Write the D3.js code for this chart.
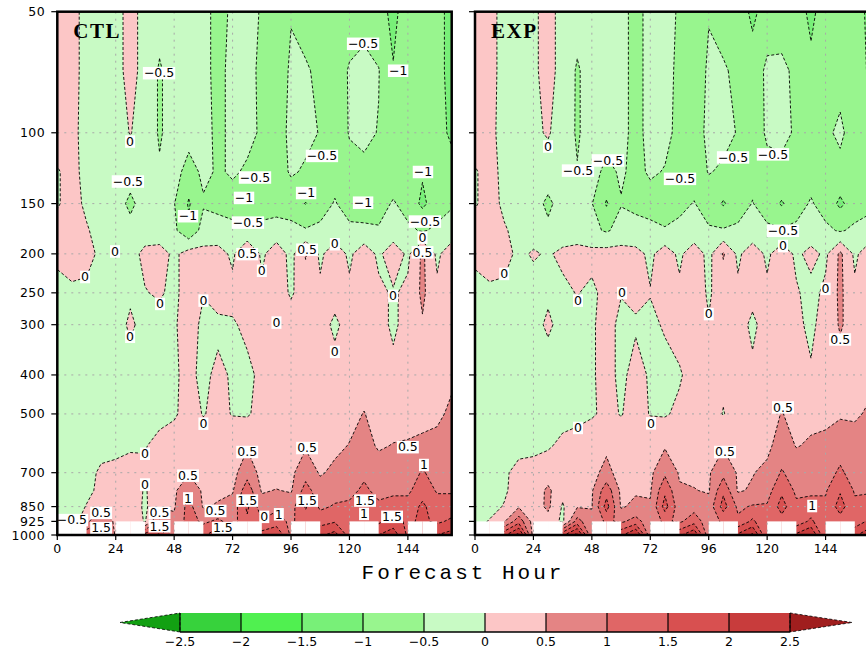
<!DOCTYPE html>
<html>
<head>
<meta charset="utf-8">
<title>CTL / EXP bias cross sections</title>
<script src="https://cdn.jsdelivr.net/npm/d3@7"></script>
<style>
  body { margin: 0; background: #fff; }
  svg { display: block; }
  text { font-family: "DejaVu Sans", sans-serif; fill: #000; }
</style>
</head>
<body>
<svg id="chart" width="866" height="649"></svg>
<script>
// pressure levels (rows, bottom to top) and forecast hours (columns)
const N = NaN; // missing (below ground)
const levels = [1000, 925, 850, 775, 700, 600, 500, 400, 300, 250, 200, 175, 150, 125, 100, 70, 50];
const hours = d3.range(0, 163, 6);
const pTicks = [1000, 925, 850, 700, 500, 400, 300, 250, 200, 150, 100, 50];
const pGrid = [850, 700, 500, 400, 300, 250, 200, 150, 100];
const hourTicks = [0, 24, 48, 72, 96, 120, 144];
const thresholds = [-2.5, -2, -1.5, -1, -0.5, 0, 0.5, 1, 1.5, 2, 2.5];
const bandColors = ["#12a012", "#37d23c", "#50f050", "#78f078", "#98f58e", "#c8fac4",
                    "#fcc6c6", "#e48484", "#e06666", "#d85050", "#c83c3c", "#a01e1e"];

// CTL bias, one row per level (1000 -> 50 hPa), hours 0..162
const ctlBias = [
  [N, N, 1.4, 1.9, N, N, 1.7,   2.1, N, N, 1.4, 1.9, N, N,   1.7, 2.0, N, N, 1.9, 2.2, N,   N, 2.0, 2.3, N, N, 2.0, 2.2],
  [-0.6, -0.3, 0.4, 0.9, 0.4, 0.4, -0.05,   1.05, 0.6, 1.2, 0.9, 1.1, 0.8, 1.4,   1.05, 1.2, 0.9, 1.3, 1.3, 1.45, 1.3,   1.45, 1.4, 1.7, 1.4, 1.6, 1.4, 1.6],
  [-0.4, -0.2, 0.02, 0.45, 0.3, 0.35, -0.1,   0.45, 0.45, 1.2, 0.45, 0.55, 0.7, 1.6,   0.7, 0.9, 0.8, 1.55, 0.9, 1.05, 1.1,   1.4, 1.1, 1.3, 1.2, 1.6, 1.2, 1.2],
  [-0.3, -0.2, -0.1, 0.1, 0.2, 0.3, -0.05,   0.3, 0.4, 0.95, 0.4, 0.4, 0.45, 1.3,   0.45, 0.52, 0.45, 1.2, 0.7, 0.8, 0.85,   1.1, 0.85, 0.85, 0.9, 1.3, 0.95, 0.95],
  [-0.2, -0.15, -0.1, 0.05, 0.1, 0.15, 0.05,   0.3, 0.3, 0.45, 0.3, 0.3, 0.35, 0.8,   0.35, 0.3, 0.4, 0.8, 0.45, 0.6, 0.65,   0.9, 0.7, 0.7, 0.75, 1.05, 0.8, 0.85],
  [-0.2, -0.2, -0.15, -0.1, -0.1, -0.05, -0.02,   0.1, 0.2, 0.25, 0.2, 0.2, 0.3, 0.45,   0.3, 0.25, 0.35, 0.45, 0.3, 0.4, 0.52,   0.65, 0.45, 0.52, 0.55, 0.6, 0.65, 0.75],
  [-0.2, -0.25, -0.25, -0.25, -0.2, -0.2, -0.15,   -0.1, -0.05, 0.15, -0.02, 0.1, -0.02, -0.05,   0.15, 0.2, 0.2, 0.2, 0.2, 0.25, 0.35,   0.52, 0.3, 0.3, 0.3, 0.35, 0.4, 0.6],
  [-0.2, -0.3, -0.3, -0.3, -0.3, -0.25, -0.2,   -0.15, -0.05, 0.1, -0.1, 0.1, -0.05, -0.1,   0.1, 0.2, 0.2, 0.2, 0.2, 0.2, 0.2,   0.25, 0.2, 0.15, 0.2, 0.25, 0.3, 0.4],
  [-0.2, -0.25, -0.3, -0.3, -0.25, 0.1, -0.2,   -0.15, -0.05, 0.2, -0.1, -0.1, -0.05, 0.1,   0.2, 0.05, 0.2, 0.2, 0.2, -0.1, 0.2,   0.2, 0.2, -0.1, 0.2, 0.45, 0.2, 0.25],
  [-0.15, -0.1, -0.1, -0.15, -0.2, -0.1, -0.02,   0.05, -0.1, 0.2, 0.02, 0.2, 0.15, 0.2,   0.1, 0.2, -0.05, 0.2, 0.1, 0.2, 0.1,   0.2, 0.1, -0.05, 0.1, 0.6, 0.1, 0.2],
  [0.1, 0.25, 0.15, -0.1, -0.05, -0.15, 0.1,   0.2, -0.1, 0.2, 0.15, 0.2, -0.1, 0.55,   -0.1, 0.3, -0.15, 0.55, -0.1, 0.3, -0.1,   0.3, -0.1, 0.3, -0.1, 0.6, -0.1, 0.3],
  [0.2, 0.3, 0.05, -0.2, -0.2, -0.35, -0.2,   -0.3, -0.4, -0.9, -0.3, -0.35, -0.4, -0.45,   -0.35, -0.3, -0.35, -0.45, -0.35, -0.3, -0.35,   -0.4, -0.45, -0.3, -0.4, -0.55, -0.4, -0.3],
  [-0.05, 0.2, -0.1, -0.25, -0.3, -0.6, -0.3,   -0.35, -0.48, -1.05, -0.55, -0.6, -0.65, -0.95,   -0.75, -0.7, -0.75, -1.02, -0.8, -0.45, -0.8,   -0.75, -0.7, -0.45, -0.7, -1.1, -0.75, -0.55],
  [-0.05, 0.2, -0.2, -0.2, -0.2, -0.3, -0.2,   -0.45, -0.3, -0.7, -0.4, -0.55, -0.45, -0.55,   -0.6, -0.7, -0.45, -0.55, -0.65, -0.75, -0.6,   -0.6, -0.65, -0.8, -0.8, -0.95, -0.85, -0.9],
  [0.3, 0.15, -0.2, -0.2, -0.2, 0.02, -0.2,   -0.55, -0.3, -0.3, -0.35, -0.6, -0.4, -0.4,   -0.55, -0.7, -0.4, -0.4, -0.52, -0.7, -0.48,   -0.4, -0.52, -0.8, -0.75, -0.8, -0.9, -1.05],
  [0.3, 0.2, -0.2, -0.3, -0.2, 0.2, -0.2,   -0.55, -0.3, -0.35, -0.4, -0.6, -0.4, -0.35,   -0.6, -0.7, -0.45, -0.45, -0.6, -0.8, -0.45,   -0.35, -0.48, -0.98, -0.8, -0.8, -0.9, -1.1],
  [0.3, 0.2, -0.2, -0.3, -0.2, 0.2, -0.2,   -0.3, -0.35, -0.4, -0.4, -0.6, -0.45, -0.3,   -0.55, -0.7, -0.52, -0.7, -0.8, -0.8, -0.8,   -0.7, -0.85, -1.1, -0.8, -0.8, -0.9, -1.1]
];

// EXP bias, same layout
const expBias = [
  [N, N, 1.9, 2.7, N, N, 1.9,   2.7, N, N, 1.9, 2.6, N, N,   1.9, 2.45, N, N, 2.1, 2.6, N,   N, 2.1, 2.55, N, N, 1.9, 2.4],
  [-0.1, 0.02, 0.45, 1.3, 0.3, 0.3, -0.1,   1.2, 0.6, 1.1, 0.9, 1.2, 0.7, 1.1,   0.9, 1.3, 0.7, 1.1, 1.1, 1.6, 1.05,   1.3, 1.2, 1.6, 1.05, 1.3, 1.2, 1.6],
  [-0.15, -0.1, 0.02, 0.45, 0.25, 0.6, -0.05,   0.45, 0.48, 1.7, 0.45, 0.6, 0.55, 1.7,   0.7, 0.8, 0.7, 1.7, 0.9, 1.05, 1.05,   1.7, 1.1, 1.2, 1.1, 1.7, 1.1, 1.2],
  [-0.2, -0.1, -0.05, 0.15, 0.2, 0.6, 0.15,   0.35, 0.45, 1.3, 0.4, 0.45, 0.45, 1.4,   0.55, 0.52, 0.45, 1.4, 0.45, 0.55, 0.8,   1.4, 0.9, 0.9, 0.95, 1.45, 0.95, 0.95],
  [-0.2, -0.15, -0.05, 0.1, 0.15, 0.25, 0.2,   0.3, 0.35, 0.65, 0.3, 0.35, 0.4, 0.9,   0.45, 0.4, 0.45, 0.85, 0.45, 0.48, 0.6,   1.05, 0.75, 0.7, 0.75, 1.1, 0.75, 0.8],
  [-0.2, -0.2, -0.15, -0.1, -0.1, -0.05, 0.1,   0.15, 0.3, 0.4, 0.2, 0.25, 0.3, 0.45,   0.3, 0.25, 0.3, 0.45, 0.35, 0.35, 0.4,   0.7, 0.48, 0.55, 0.6, 0.75, 0.65, 0.75],
  [-0.2, -0.25, -0.25, -0.25, -0.2, -0.2, -0.15,   -0.1, -0.05, 0.1, -0.02, 0.15, -0.02, -0.05,   0.1, 0.2, 0.2, -0.02, 0.2, 0.25, 0.3,   0.52, 0.35, 0.4, 0.4, 0.45, 0.45, 0.55],
  [-0.2, -0.3, -0.3, -0.3, -0.3, -0.3, -0.25,   -0.2, -0.05, 0.15, -0.1, 0.15, -0.05, -0.15,   -0.05, 0.2, 0.2, 0.1, 0.2, 0.1, 0.2,   0.25, 0.1, 0.05, 0.2, 0.3, 0.3, 0.4],
  [-0.2, -0.25, -0.3, -0.3, -0.2, 0.1, -0.2,   -0.1, -0.05, 0.15, -0.1, -0.05, -0.1, 0.05,   0.2, 0.2, 0.02, 0.2, 0.2, -0.1, 0.2,   0.2, 0.1, -0.1, 0.2, 0.55, 0.3, 0.3],
  [-0.15, -0.1, -0.1, -0.15, -0.2, -0.1, -0.1,   0.02, -0.1, 0.15, 0.02, 0.1, 0.02, 0.15,   0.1, 0.2, -0.05, 0.2, 0.1, 0.15, 0.1,   0.2, 0.05, -0.15, 0.1, 0.6, 0.1, 0.25],
  [0.1, 0.25, 0.15, -0.1, 0.05, -0.05, 0.1,   0.2, 0.15, 0.2, 0.2, 0.15, -0.1, 0.25,   -0.1, 0.3, -0.15, 0.55, -0.1, 0.3, -0.1,   0.3, -0.1, 0.15, -0.1, 0.6, -0.1, 0.3],
  [0.2, 0.3, 0.05, -0.15, -0.2, -0.4, -0.25,   -0.3, -0.4, -0.55, -0.35, -0.35, -0.4, -0.45,   -0.4, -0.35, -0.45, -0.45, -0.4, -0.35, -0.4,   -0.45, -0.4, -0.3, -0.4, -0.55, -0.4, -0.35],
  [-0.05, 0.2, -0.1, -0.2, -0.3, -0.6, -0.3,   -0.35, -0.48, -1.05, -0.52, -0.6, -0.65, -0.8,   -0.6, -0.48, -0.7, -1.05, -0.75, -0.48, -0.75,   -1.05, -0.7, -0.45, -0.7, -1.1, -0.75, -0.6],
  [-0.05, 0.2, -0.15, -0.2, -0.15, -0.25, -0.3,   -0.48, -0.35, -0.6, -0.45, -0.6, -0.45, -0.52,   -0.65, -0.7, -0.48, -0.55, -0.6, -0.65, -0.6,   -0.6, -0.65, -0.7, -0.7, -0.65, -0.7, -0.8],
  [0.3, 0.15, -0.2, -0.25, -0.1, 0.05, -0.25,   -0.55, -0.3, -0.35, -0.4, -0.6, -0.4, -0.4,   -0.6, -0.7, -0.4, -0.4, -0.52, -0.7, -0.45,   -0.4, -0.55, -0.75, -0.6, -0.4, -0.75, -1.05],
  [0.3, 0.2, -0.2, -0.25, -0.1, 0.2, -0.2,   -0.55, -0.3, -0.35, -0.4, -0.6, -0.4, -0.35,   -0.6, -0.7, -0.45, -0.45, -0.6, -0.8, -0.4,   -0.4, -0.6, -0.9, -0.75, -0.7, -0.8, -1.05],
  [0.3, 0.2, -0.2, -0.25, -0.1, 0.2, -0.2,   -0.3, -0.35, -0.35, -0.4, -0.6, -0.4, -0.35,   -0.55, -0.7, -0.52, -0.7, -0.75, -1.1, -0.8,   -0.75, -0.8, -1.1, -0.8, -0.75, -0.8, -1.1]
];

// contour labels: [hour, pressure, text]
const ctlLabels = [
  [41.8, 71, "−0.5"], [29.9, 105, "0"], [29, 132, "−0.5"], [53.7, 161, "−1"], [81.2, 129, "−0.5"],
  [76.7, 145, "−1"], [78.3, 167, "−0.5"], [108.7, 114, "−0.5"], [102.2, 141, "−1"], [125.6, 149, "−1"],
  [125.6, 60, "−0.5"], [140, 70, "−1"], [150.2, 125, "−1"], [151, 166, "−0.5"], [11.4, 228, "0"],
  [23.7, 197, "0"], [78, 200, "0.5"], [84, 220, "0"], [102.6, 195, "0.5"], [114, 189, "0"],
  [150, 182, "0"], [150, 198, "0.5"], [42.2, 266, "0"], [60, 261, "0"], [29.9, 321, "0"],
  [90, 296, "0"], [114, 350, "0"], [137.9, 254, "0"], [60, 528, "0"], [36, 627, "0"],
  [36, 748, "0"], [53.7, 711, "0.5"], [78, 621, "0.5"], [102.6, 607, "0.5"], [144, 604, "0.5"],
  [53.7, 810, "1"], [150.6, 669, "1"], [78, 820, "1.5"], [102.6, 820, "1.5"], [126.4, 820, "1.5"],
  [126, 885, "1"], [137.5, 900, "1.5"], [6, 917, "−0.5"], [18, 880, "0.5"], [18, 960, "1.5"],
  [42, 880, "0.5"], [42, 950, "1.5"], [65, 870, "0.5"], [68, 960, "1.5"], [91, 887, "1"], [85, 900, "0"]
];
const expLabels = [
  [30, 108, "0"], [42.3, 124, "−0.5"], [54.6, 117, "−0.5"], [84.2, 130, "−0.5"], [106, 115, "−0.5"],
  [122.4, 113, "−0.5"], [126.5, 175, "−0.5"], [126.5, 191, "0"], [12, 224, "0"], [42.3, 261, "0"],
  [60.4, 250, "0"], [42.3, 541, "0"], [72.3, 527, "0"], [96, 282, "0"], [144, 244, "0"],
  [150, 326, "0.5"], [126.5, 481, "0.5"], [102.7, 621, "0.5"], [138.5, 846, "1"]
];

const svg = d3.select("#chart");
const plotTop = 11.7, plotBottom = 535, panelW = 394.4;
const y = d3.scaleLog().domain([1000, 50]).range([plotBottom, plotTop]);
const nx = hours.length, ny = levels.length;
const contours = d3.contours().size([nx, ny]);

function drawPanel(name, rows, labels, left) {
  const x = d3.scaleLinear().domain([0, 162]).range([left, left + panelW]);

  // missing cells take the value of the level above for contouring; they are blanked afterwards
  const missing = [];
  const filled = rows.map((row, j) => row.map((v, i) => {
    if (isNaN(v)) { missing.push([i, j]); return rows[j + 1][i]; }
    return v;
  }));
  const values = filled.flat();

  // contour grid coords -> pixels (cell centres sit at i + 0.5)
  function toPx(c) {
    const ix = Math.max(0, Math.min(nx - 1, c[0] - 0.5));
    const iy = Math.max(0, Math.min(ny - 1, c[1] - 0.5));
    const i = Math.min(nx - 2, Math.floor(ix)), fi = ix - i;
    const j = Math.min(ny - 2, Math.floor(iy)), fj = iy - j;
    const h = hours[i] + fi * (hours[i + 1] - hours[i]);
    const lp = Math.log(levels[j]) * (1 - fj) + Math.log(levels[j + 1]) * fj;
    return [x(h).toFixed(2), y(Math.exp(lp)).toFixed(2)];
  }
  const onEdge = c => c[0] <= 1e-9 || c[0] >= nx - 1e-9 || c[1] <= 1e-9 || c[1] >= ny - 1e-9;
  const missRect = ([i, j]) => ({
    x: x(hours[i]), w: x(Math.min(162, hours[i] + 6)) - x(hours[i]),
    y: y(levels[j + 1]), h: y(levels[j]) - y(levels[j + 1])
  });

  const clipId = "clip-" + name, maskId = "mask-" + name;
  svg.append("clipPath").attr("id", clipId).append("rect")
    .attr("x", left).attr("y", plotTop).attr("width", panelW).attr("height", plotBottom - plotTop);
  const mask = svg.append("mask").attr("id", maskId).attr("maskUnits", "userSpaceOnUse")
    .attr("x", 0).attr("y", 0).attr("width", 1000).attr("height", 700);
  mask.append("rect").attr("x", 0).attr("y", 0).attr("width", 1000).attr("height", 700).attr("fill", "#fff");
  missing.map(missRect).forEach(r => mask.append("rect")
    .attr("x", r.x).attr("y", r.y).attr("width", r.w).attr("height", r.h + 2).attr("fill", "#000"));

  const g = svg.append("g").attr("clip-path", `url(#${clipId})`);

  // filled bands
  [-1e9].concat(thresholds).forEach((t, k) => {
    const mp = contours.contour(values, t);
    const d = mp.coordinates.map(poly => poly.map(ring => "M" + ring.map(toPx).join("L") + "Z").join("")).join("");
    g.append("path").attr("d", d).attr("fill", bandColors[k]).attr("fill-rule", "evenodd");
  });
  // blank missing cells
  missing.map(missRect).forEach(r => g.append("rect")
    .attr("x", r.x).attr("y", r.y).attr("width", r.w).attr("height", r.h + 2).attr("fill", "#fff"));

  // dotted grid
  g.selectAll(".vgrid").data(hourTicks.slice(1)).enter().append("line")
    .attr("x1", d => x(d)).attr("x2", d => x(d)).attr("y1", plotTop).attr("y2", plotBottom)
    .attr("stroke", "#a8a8a8").attr("stroke-width", 1).attr("stroke-dasharray", "2,5");
  g.selectAll(".hgrid").data(pGrid).enter().append("line")
    .attr("x1", left).attr("x2", left + panelW).attr("y1", d => y(d)).attr("y2", d => y(d))
    .attr("stroke", "#a8a8a8").attr("stroke-width", 1).attr("stroke-dasharray", "2,5");

  // dashed contour lines
  const lines = g.append("g").attr("mask", `url(#${maskId})`);
  thresholds.forEach(t => {
    const mp = contours.contour(values, t);
    let d = "";
    mp.coordinates.forEach(poly => poly.forEach(ring => {
      let pen = false;
      for (let k = 1; k < ring.length; k++) {
        const a = ring[k - 1], b = ring[k];
        if (onEdge(a) && onEdge(b)) { pen = false; continue; }
        if (!pen) { d += "M" + toPx(a); pen = true; }
        d += "L" + toPx(b);
      }
    }));
    if (d) lines.append("path").attr("d", d).attr("fill", "none")
      .attr("stroke", "#000").attr("stroke-width", 0.9).attr("stroke-dasharray", "3,2");
  });

  // contour labels with white boxes
  labels.forEach(([h, p, s]) => {
    const lg = g.append("g");
    const t = lg.append("text").attr("x", x(h)).attr("y", y(p)).attr("dy", "0.36em")
      .attr("text-anchor", "middle").attr("font-size", 12.5).text(s);
    const bb = t.node().getBBox();
    lg.insert("rect", "text").attr("x", bb.x - 1).attr("y", bb.y + 1.5)
      .attr("width", bb.width + 2).attr("height", bb.height - 2.5).attr("fill", "#fff");
  });

  // frame
  svg.append("rect").attr("x", left).attr("y", plotTop).attr("width", panelW)
    .attr("height", plotBottom - plotTop).attr("fill", "none").attr("stroke", "#000").attr("stroke-width", 2.5);

  // x ticks and labels
  svg.selectAll(".xt-" + name).data(hourTicks).enter().append("line")
    .attr("x1", d => x(d)).attr("x2", d => x(d)).attr("y1", plotBottom).attr("y2", plotBottom + 5)
    .attr("stroke", "#000").attr("stroke-width", 1.2);
  svg.selectAll(".xl-" + name).data(hourTicks).enter().append("text")
    .attr("x", d => x(d)).attr("y", plotBottom + 18).attr("text-anchor", "middle")
    .attr("font-size", 12.5).text(d => d);

  // left ticks
  svg.selectAll(".yt-" + name).data(pTicks).enter().append("line")
    .attr("x1", left - 6).attr("x2", left).attr("y1", d => y(d)).attr("y2", d => y(d))
    .attr("stroke", "#000").attr("stroke-width", 1.2);

  svg.append("text").attr("x", left + 16).attr("y", 38)
    .style("font-family", "'Liberation Serif', serif").attr("font-weight", "bold")
    .attr("font-size", 21).attr("letter-spacing", 1.5).text(name);
}

drawPanel("CTL", ctlBias, ctlLabels, 57.3);
drawPanel("EXP", expBias, expLabels, 475);

// pressure labels on the left panel
svg.selectAll(".ylab").data(pTicks).enter().append("text")
  .attr("x", 45).attr("y", d => y(d) + 4.5).attr("text-anchor", "end")
  .attr("font-size", 12.5).attr("letter-spacing", 0.4).text(d => d);

svg.append("text").attr("x", 463).attr("y", 579).attr("text-anchor", "middle")
  .style("font-family", "'Liberation Mono', monospace").attr("font-size", 21)
  .attr("letter-spacing", 3).text("Forecast Hour");

// colour bar
const cb = d3.scaleLinear().domain([-2.5, 2.5]).range([180, 790]);
const cbTop = 613, cbBottom = 632;
const cbg = svg.append("g");
cbg.selectAll("rect").data(d3.pairs(thresholds)).enter().append("rect")
  .attr("x", d => cb(d[0])).attr("y", cbTop).attr("width", d => cb(d[1]) - cb(d[0]))
  .attr("height", cbBottom - cbTop).attr("fill", (d, i) => bandColors[i + 1]);
cbg.append("path")
  .attr("d", `M${cb(-2.5) - 60},${(cbTop + cbBottom) / 2}L${cb(-2.5)},${cbTop}L${cb(-2.5)},${cbBottom}Z`)
  .attr("fill", bandColors[0]).attr("stroke", "#000").attr("stroke-width", 0.8).attr("stroke-dasharray", "3,2");
cbg.append("path")
  .attr("d", `M${cb(2.5) + 62},${(cbTop + cbBottom) / 2}L${cb(2.5)},${cbTop}L${cb(2.5)},${cbBottom}Z`)
  .attr("fill", bandColors[11]).attr("stroke", "#000").attr("stroke-width", 0.8).attr("stroke-dasharray", "3,2");
cbg.selectAll(".sep").data(thresholds).enter().append("line")
  .attr("x1", d => cb(d)).attr("x2", d => cb(d)).attr("y1", cbTop).attr("y2", cbBottom)
  .attr("stroke", "#000").attr("stroke-width", 1.2);
cbg.append("line").attr("x1", cb(-2.5)).attr("x2", cb(2.5)).attr("y1", cbBottom).attr("y2", cbBottom)
  .attr("stroke", "#000").attr("stroke-width", 1.5);
cbg.selectAll(".cbl").data(thresholds).enter().append("text")
  .attr("x", d => cb(d)).attr("y", 646).attr("text-anchor", "middle").attr("font-size", 12.5)
  .text(d => String(d).replace("-", "−"));
</script>
</body>
</html>
